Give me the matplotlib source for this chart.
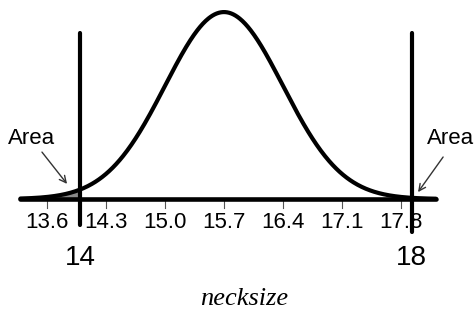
import numpy as np
import matplotlib
matplotlib.use("Agg")
import matplotlib.pyplot as plt

# normal curve
mu = 15.7
sigma = 0.7
tick_vals = [13.6, 14.3, 15.0, 15.7, 16.4, 17.1, 17.8]
tick_labels = ["13.6", "14.3", "15.0", "15.7", "16.4", "17.1", "17.8"]
cut_vals = [13.99, 17.93]
cut_labels = ["14", "18"]
x_lo, x_hi = 13.28, 18.22

sans = ["Liberation Sans", "DejaVu Sans"]

fig = plt.figure(figsize=(4.76, 3.11), dpi=100)
ax = fig.add_axes([0, 0, 1, 1])
ax.set_xlim(13.037, 18.696)
ax.set_ylim(-0.3415, 0.6067)
ax.axis("off")

x = np.linspace(x_lo, x_hi, 600)
y = np.exp(-0.5 * ((x - mu) / sigma) ** 2) / (sigma * np.sqrt(2 * np.pi))

# shaded tails
ax.fill_between(x, 0, y, where=x <= cut_vals[0], color="#8a8a8a", lw=0)
ax.fill_between(x, 0, y, where=x >= cut_vals[1], color="#8a8a8a", lw=0)

# axis line
ax.plot([x_lo, x_hi], [0, 0], color="black", lw=3.3, solid_capstyle="round", zorder=3)
ax.plot(x, y, color="black", lw=3.0, solid_capstyle="round", zorder=4)

# ticks + labels
for v, lab in zip(tick_vals, tick_labels):
    ax.plot([v, v], [0, -0.027], color="#555555", lw=0.8, zorder=2)
    ax.text(v, -0.073, lab, ha="center", va="center", fontsize=16, family=sans)

# cut lines
for v, lab, bot in zip(cut_vals, cut_labels, [-0.079, -0.10]):
    ax.plot([v, v], [0.506, bot], color="black", lw=3.0, solid_capstyle="round", zorder=5)
    ax.text(v, -0.18, lab, ha="center", va="center", fontsize=20, family=sans)

# area labels with arrows
ax.text(13.406, 0.183, "Area", ha="center", va="center", fontsize=16, family=sans)
ax.text(18.388, 0.183, "Area", ha="center", va="center", fontsize=16, family=sans)
arrow = dict(arrowstyle="->", color="#333333", lw=1.0, shrinkA=0, shrinkB=0,
             mutation_scale=12)
ax.annotate("", xy=(13.834, 0.046), xytext=(13.536, 0.143), arrowprops=arrow)
ax.annotate("", xy=(18.007, 0.021), xytext=(18.305, 0.128), arrowprops=arrow)

ax.text(15.94, -0.323, "necksize", ha="center", va="baseline", fontsize=19,
        family="Liberation Serif", style="italic")

fig.savefig("out.png", dpi=100)
